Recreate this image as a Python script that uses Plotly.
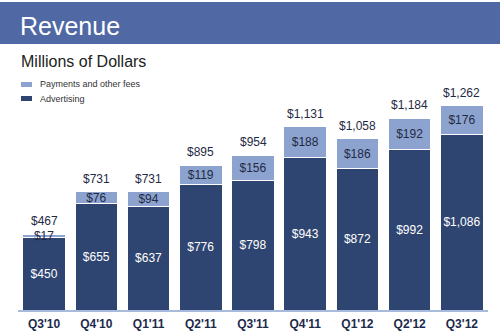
import plotly.graph_objects as go

quarters = ["Q3'10", "Q4'10", "Q1'11", "Q2'11", "Q3'11", "Q4'11", "Q1'12", "Q2'12", "Q3'12"]
advertising = [450, 655, 637, 776, 798, 943, 872, 992, 1086]
payments = [17, 76, 94, 119, 156, 188, 186, 192, 176]
totals = [467, 731, 731, 895, 954, 1131, 1058, 1184, 1262]

DARK = "#2f4571"
LIGHT = "#8da3cf"
TXT = "#1f2a44"

W, H = 500, 334
L, R, T, B = 18, 12, 50, 24
PW, PH = W - L - R, H - T - B

def px(x):
    return (x - L) / PW

def py(y):
    return (H - B - y) / PH

fig = go.Figure()
fig.add_trace(go.Bar(
    x=quarters, y=advertising, name="Advertising",
    marker=dict(color=DARK, line=dict(color="white", width=1)),
    text=[f"${v:,}" for v in advertising], textposition="inside", textangle=0,
    insidetextanchor="middle",
    textfont=dict(color="white", size=12, family="Liberation Sans"),
))
fig.add_trace(go.Bar(
    x=quarters, y=payments, name="Payments and other fees",
    marker=dict(color=LIGHT, line=dict(color="white", width=1)),
    text=[f"${v:,}" for v in payments], textposition="inside", textangle=0,
    insidetextanchor="middle",
    textfont=dict(color=TXT, size=12, family="Liberation Sans"),
))

shapes = [
    dict(type="rect", xref="paper", yref="paper", x0=px(0), x1=px(W), y0=py(2), y1=py(44),
         fillcolor="#5069a5", line=dict(width=0), layer="below"),
    dict(type="rect", xref="paper", yref="paper", x0=px(21), x1=px(32), y0=py(82), y1=py(87),
         fillcolor=LIGHT, line=dict(width=0)),
    dict(type="rect", xref="paper", yref="paper", x0=px(21), x1=px(32), y0=py(96), y1=py(101),
         fillcolor=DARK, line=dict(width=0)),
]
annotations = [
    dict(text="Revenue", xref="paper", yref="paper", x=px(18), y=py(26), xanchor="left", yanchor="middle",
         showarrow=False, font=dict(color="white", size=25, family="Liberation Sans")),
    dict(text="Millions of Dollars", xref="paper", yref="paper", x=px(19), y=py(62), xanchor="left",
         yanchor="middle", showarrow=False, font=dict(color="#222222", size=16, family="Liberation Sans")),
    dict(text="Payments and other fees", xref="paper", yref="paper", x=px(38), y=py(84), xanchor="left",
         yanchor="middle", showarrow=False, font=dict(color="#333333", size=9, family="Liberation Sans")),
    dict(text="Advertising", xref="paper", yref="paper", x=px(38), y=py(98.5), xanchor="left",
         yanchor="middle", showarrow=False, font=dict(color="#333333", size=9, family="Liberation Sans")),
]
for q, t in zip(quarters, totals):
    annotations.append(dict(
        text=f"${t:,}", x=q, y=t, xref="x", yref="y", xanchor="center", yanchor="bottom",
        yshift=4, showarrow=False, font=dict(color=TXT, size=12, family="Liberation Sans"),
    ))

fig.update_layout(
    width=W, height=H, barmode="stack", bargap=0.185,
    margin=dict(l=L, r=R, t=T, b=B),
    paper_bgcolor="white", plot_bgcolor="white",
    showlegend=False, shapes=shapes, annotations=annotations,
    uniformtext=dict(minsize=12, mode="show"),
    xaxis=dict(showline=True, linecolor="#a9bbdc", linewidth=1.5, ticks="", showgrid=False,
               automargin=False, ticklabelstandoff=2,
               tickfont=dict(color="#1c2a4a", size=12, family="Liberation Sans", weight="bold")),
    yaxis=dict(visible=False, range=[0, PH / 0.162], showgrid=False, zeroline=False, automargin=False),
)
fig.write_html("out.html")
